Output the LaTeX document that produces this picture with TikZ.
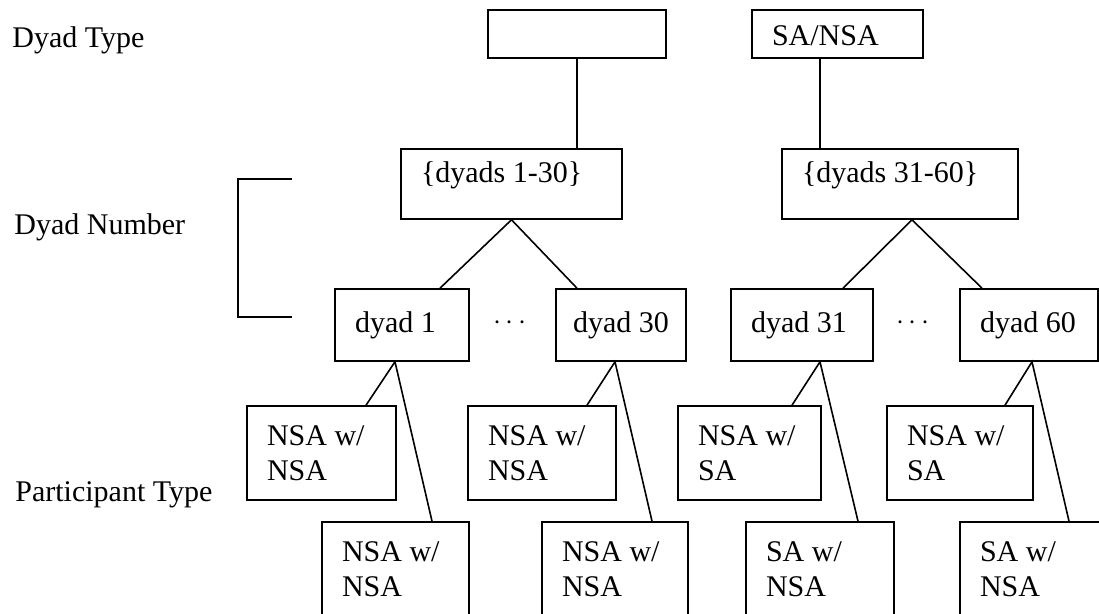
\documentclass[tikz,border=0pt]{standalone}
\usepackage{fontspec}
\setmainfont{Liberation Serif}
\tikzset{
  wbox/.style={draw, line width=0.8pt, inner xsep=10pt, inner ysep=0pt, align=flush left, text width=#1},
  lvl/.style={anchor=base west, inner sep=0pt},
  link/.style={line width=0.8pt}
}

\begin{document}
\begin{tikzpicture}[x=0.5pt,y=-0.5pt,font=\fontsize{15}{17.5}\selectfont]
\path[use as bounding box, clip] (0,0) rectangle (1099,614);
\node[lvl] (lblType) at (12,48) {Dyad Type};
\node[lvl] (lblNum) at (14,235) {Dyad Number};
\node[lvl] (lblPart) at (15,502) {Participant Type};
\draw[link] (292,179) -- (238,179) -- (238,317) -- (292,317);
\node[wbox=69pt, minimum height=24pt] (typeA) at (577,34) {};
\node[wbox=65.5pt, minimum height=24pt, text height=12pt, text depth=0pt] (typeB) at (837.5,34) {SA/NSA};
\node[wbox=90.5pt, minimum height=35pt, text height=11pt, text depth=12pt] (setA) at (511.5,184) {\{dyads 1-30\}};
\node[wbox=98pt, minimum height=35pt, text height=11pt, text depth=12pt] (setB) at (900,184) {\{dyads 31-60\}};
\node[wbox=47pt, minimum height=36pt] (dy1) at (402,325) {dyad~1};
\node[wbox=48pt, inner xsep=8.5pt, minimum height=36pt] (dy30) at (621,325) {dyad~30};
\node[wbox=51pt, minimum height=36pt] (dy31) at (802,325) {dyad~31};
\node[wbox=49pt, minimum height=36pt] (dy60) at (1029,325) {dyad~60};
\node[anchor=base, inner sep=0pt] (gapA) at (510,330) {$\cdots$};
\node[anchor=base, inner sep=0pt] (gapB) at (913,330) {$\cdots$};
\node[wbox=54.5pt, minimum height=47pt] (pt1) at (321.5,453) {NSA w/\\NSA};
\node[wbox=54pt, minimum height=47pt] (pt2) at (542,453) {NSA w/\\NSA};
\node[wbox=51.5pt, minimum height=47pt] (pt3) at (749.5,453) {NSA w/\\SA};
\node[wbox=53pt, minimum height=47pt] (pt4) at (960,453) {NSA w/\\SA};
\node[wbox=53.5pt, minimum height=47pt] (pb1) at (395.5,569) {NSA w/\\NSA};
\node[wbox=53pt, minimum height=47pt] (pb2) at (615,569) {NSA w/\\NSA};
\node[wbox=54pt, minimum height=47pt] (pb3) at (820,569) {SA w/\\NSA};
\node[wbox=53.5pt, minimum height=47pt] (pb4) at (1033.5,569) {SA w/\\NSA};
\coordinate (stemB) at ([xshift=-8.75pt]typeB.south);
\draw[link] (typeA.south) -- (typeA.south |- setA.north);
\draw[link] (stemB) -- (stemB |- setB.north);
\draw[link] ([xshift=19pt]dy1.north) -- (setA.south) -- ([xshift=-22pt]dy30.north);
\draw[link] ([xshift=20.5pt]dy31.north) -- ([xshift=6pt]setB.south) -- ([xshift=-23.5pt]dy60.north);
\draw[link] ([xshift=22.25pt]pt1.north) -- ([xshift=-3.5pt]dy1.south) -- ([xshift=18.25pt]pb1.north);
\draw[link] ([xshift=22.5pt]pt2.north) -- ([xshift=-3pt]dy30.south) -- ([xshift=18.5pt]pb2.north);
\draw[link] ([xshift=21.25pt]pt3.north) -- ([xshift=9pt]dy31.south) -- ([xshift=19pt]pb3.north);
\draw[link] ([xshift=22.5pt]pt4.north) -- ([xshift=1.5pt]dy60.south) -- ([xshift=17.75pt]pb4.north);
\end{tikzpicture}
\end{document}
